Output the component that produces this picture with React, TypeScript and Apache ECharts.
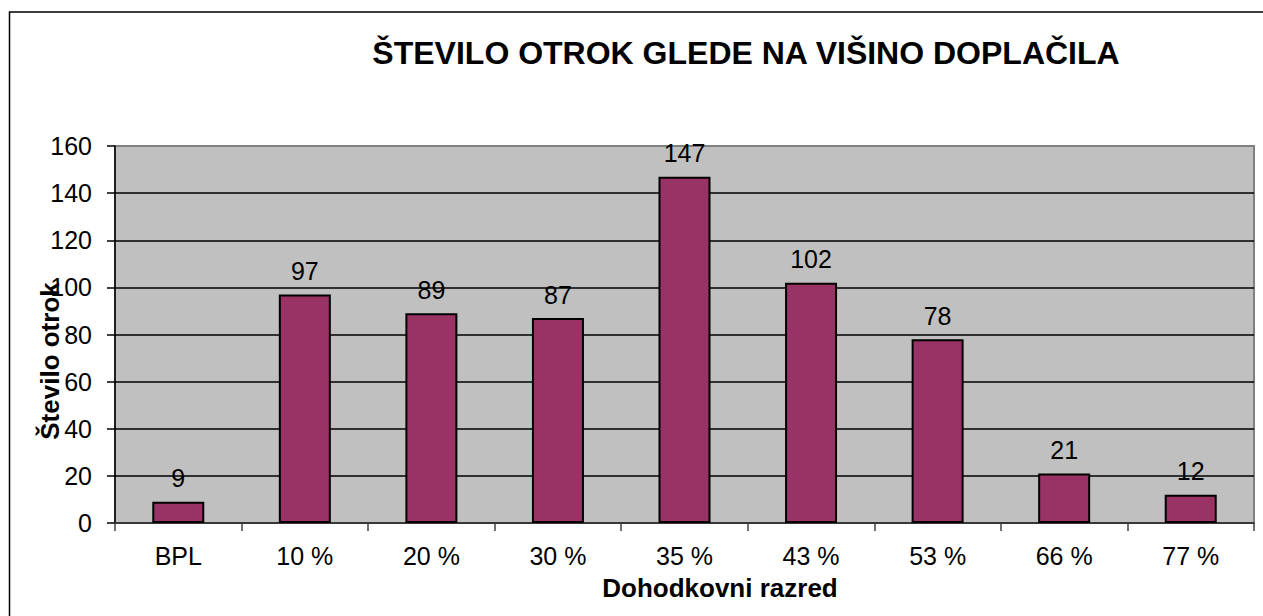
import React, { useEffect, useRef } from "react";
import * as echarts from "echarts";

const categories = ["BPL", "10 %", "20 %", "30 %", "35 %", "43 %", "53 %", "66 %", "77 %"];
const values = [9, 97, 89, 87, 147, 102, 78, 21, 12];
const titleText = "ŠTEVILO OTROK GLEDE NA VIŠINO DOPLAČILA";
const xName = "Dohodkovni razred";
const yName = "Število otrok";

const FONT = "Liberation Sans, Arial, sans-serif";

export default function App() {
  const ref = useRef<HTMLDivElement>(null);
  useEffect(() => {
    if (!ref.current) return;
    const chart = echarts.init(ref.current, undefined, { renderer: "svg" });
    const splitColors = ["#000", "#000", "#000", "#000", "#000", "#000", "#000", "#000", "#808080"];
    chart.setOption({
      animation: false,
      backgroundColor: "#fff",
      textStyle: { fontFamily: FONT },
      grid: {
        left: 115,
        right: 9,
        top: 146,
        bottom: 93,
        show: true,
        backgroundColor: "#C0C0C0",
        borderColor: "#808080",
        borderWidth: 2,
      },
      xAxis: {
        type: "category",
        data: categories,
        axisLine: { lineStyle: { color: "#404040", width: 1.5 } },
        axisTick: { show: true, length: 8, lineStyle: { color: "#404040", width: 1.5 } },
        axisLabel: { color: "#000", fontSize: 25, fontFamily: FONT, margin: 20 },
        splitLine: { show: false },
      },
      yAxis: {
        type: "value",
        min: 0,
        max: 160,
        interval: 20,
        axisLine: { show: true, lineStyle: { color: "#000", width: 1.5 } },
        axisTick: { show: true, length: 8, lineStyle: { color: "#000", width: 1.5 } },
        axisLabel: { color: "#000", fontSize: 25, fontFamily: FONT, margin: 23 },
        splitLine: { show: true, lineStyle: { color: splitColors, width: 1.5 } },
      },
      series: [
        {
          type: "bar",
          data: values,
          barWidth: 52,
          itemStyle: { color: "#993366", borderColor: "#000", borderWidth: 2 },
          label: {
            show: true,
            position: "top",
            distance: 11,
            color: "#000",
            fontSize: 25,
            fontFamily: FONT,
          },
        },
      ],
      graphic: [
        {
          type: "rect",
          shape: { x: 9.5, y: 12, width: 1400, height: 800 },
          style: { fill: "none", stroke: "#000", lineWidth: 1.5 },
          silent: true,
          z: 100,
        },
        {
          type: "text",
          x: 746,
          y: 53,
          style: {
            text: titleText,
            fontSize: 32,
            fontWeight: "bold",
            fontFamily: FONT,
            fill: "#000",
            textAlign: "center",
            textVerticalAlign: "middle",
          },
        },
        {
          type: "text",
          x: 720,
          y: 588,
          style: {
            text: xName,
            fontSize: 26,
            fontWeight: "bold",
            fontFamily: FONT,
            fill: "#000",
            textAlign: "center",
            textVerticalAlign: "middle",
          },
        },
        {
          type: "text",
          x: 50,
          y: 361,
          rotation: Math.PI / 2,
          style: {
            text: yName,
            fontSize: 26,
            fontWeight: "bold",
            fontFamily: FONT,
            fill: "#000",
            textAlign: "center",
            textVerticalAlign: "middle",
          },
          z: 50,
        },
      ],
    });
    return () => chart.dispose();
  }, []);
  return (
    <div
      ref={ref}
      style={{ position: "fixed", left: 0, top: 0, width: 1263, height: 616 }}
    />
  );
}
